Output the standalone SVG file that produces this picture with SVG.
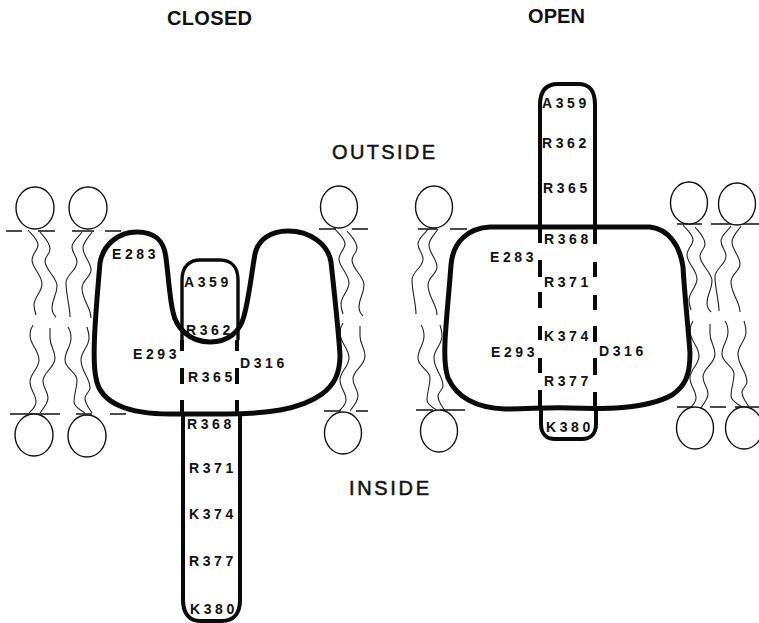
<svg xmlns="http://www.w3.org/2000/svg" width="759" height="623" viewBox="0 0 759 623">
<style>
.bg{fill:#fff}
.h{fill:#fff;stroke:#111;stroke-width:1.4}
.t{fill:none;stroke:#222;stroke-width:1.1}
.m{fill:none;stroke:#111;stroke-width:1.3}
.b{fill:none;stroke:#0a0a0a;stroke-width:5;stroke-linejoin:round}
.s{fill:none;stroke:#0a0a0a;stroke-width:4}
.r{font-family:"Liberation Sans",Arial,sans-serif;font-size:14px;font-weight:700;letter-spacing:3.6px;fill:#111}
.title{font-family:"Liberation Sans",Arial,sans-serif;font-size:20px;font-weight:700;fill:#111}
.sub{font-family:"Liberation Sans",Arial,sans-serif;font-size:20px;font-weight:400;fill:#111;stroke:#111;stroke-width:.5}
</style>
<defs>
<path id="at" d="M0,0C3,4 10,9 10,15C10,20 4,24 4,30C4,38 14,45 14,54C14,62 6,67 6,75C6,79 7,82 8,85M12,2C15,6 22,12 22,19C22,24 17,26 17,31C17,40 29,47 29,56C29,65 24,69 24,78C24,82 26,85 28,87"/>
<path id="bt" d="M0,0C-3,5 -10,9 -10,15C-10,21 -5,24 -5,30C-5,39 -16,42 -16,51C-16,62 -12,75 -12,85M10,0C7,5 1,10 1,16C1,24 9,30 9,38C9,45 0,48 0,56C0,68 9,75 9,86"/>
<path id="ab" d="M0,0C-2,3 -3,6 -3,10C-3,20 6,25 6,35C6,44 -3,48 -3,57C-3,65 3,69 3,77C3,82 -1,85 -4,88M17,3C17,6 17,9 17,13C17,21 22,25 22,33C22,43 10,47 10,56C10,63 15,66 15,73C15,78 10,84 7,88"/>
<path id="bb" d="M0,0C2,3 3,7 3,11C3,20 -3,24 -3,33C-3,42 9,45 9,53C9,62 6,66 6,75C6,80 13,83 17,86M19,0C20,3 21,7 21,11C21,20 13,24 13,33C13,45 22,50 22,61C22,65 17,67 17,71C17,77 21,81 24,86"/>
</defs>
<rect class="bg" width="759" height="623"/>

<g id="titles">
<text class="title" x="167" y="25" textLength="85" lengthAdjust="spacing">CLOSED</text>
<text class="title" x="528" y="23" textLength="57" lengthAdjust="spacing">OPEN</text>
<text class="sub" x="332" y="159" textLength="103" lengthAdjust="spacing">OUTSIDE</text>
<text class="sub" x="349" y="495" textLength="80" lengthAdjust="spacing">INSIDE</text>
</g>

<g id="membrane-closed">
<path class="m" d="M6,231H22M38,231H55M72,231H94M105,231H121M10,414H60M76,414H92M110,414H126M319,229H336M352,229H368M324,411H341M356,411H368"/>
<g class="t">
<use href="#at" x="28" y="230"/><use href="#bt" x="82" y="232"/><use href="#at" x="335" y="229"/>
<use href="#ab" x="33" y="325"/><use href="#bb" x="68" y="327"/><use href="#ab" x="343" y="323"/>
</g>
<ellipse class="h" cx="35" cy="208" rx="19" ry="21"/><ellipse class="h" cx="88" cy="208" rx="19" ry="21"/><ellipse class="h" cx="339" cy="207" rx="18.500" ry="21"/>
<ellipse class="h" cx="34" cy="435" rx="19" ry="21"/><ellipse class="h" cx="87" cy="436" rx="19" ry="21"/><ellipse class="h" cx="343" cy="433" rx="18.500" ry="21"/>
</g>

<g id="membrane-open">
<path class="m" d="M418,229H437M450,229H467M416,410H433M440,410H465M677,224H702M711,224H759M677,407H693M710,407H726M735,407H759"/>
<g class="t">
<use href="#bt" x="428" y="229"/><use href="#at" x="683" y="225"/><use href="#bt" x="731" y="226"/>
<use href="#bb" x="421" y="325"/><use href="#ab" x="693" y="321"/><use href="#bb" x="725" y="321"/>
</g>
<ellipse class="h" cx="434" cy="207" rx="18.500" ry="21"/><ellipse class="h" cx="689" cy="203" rx="18.500" ry="21"/><ellipse class="h" cx="737" cy="204" rx="18.500" ry="21"/>
<ellipse class="h" cx="439" cy="431" rx="18.500" ry="21"/><ellipse class="h" cx="695" cy="428" rx="18.500" ry="21"/><ellipse class="h" cx="744" cy="428" rx="18.500" ry="21"/>
</g>

<g id="channel-closed">
<path class="b" d="M100,263C103,245 118,232 137,232C155,232 164,240 166,258C169,282 170,300 173,312C176,328 190,342 210,342C228,342 240,332 244,316C249,298 252,270 255,254C258,240 270,231 288,231C310,231 328,244 331,262C334,290 338,325 340,355C340,374 334,385 322,394C300,410 265,414 225,414H170C130,414 100,404 96,378C92,360 95,320 100,263Z"/>
<path class="s" d="M182,340V351M182,368V384M182,400V414M237,340V351M237,368V384M237,400V414"/>
<path class="s" d="M182,340V280C182,266 190,260 200,260H220C232,260 238,268 238,280V340" style="stroke-width:3.400"/>
<path class="s" d="M183,414V600C183,614 190,621 200,621H222C233,621 240,614 240,600V414"/>
</g>

<g id="channel-open">
<path class="b" d="M451,265C453,240 470,228 490,227H650C668,229 680,245 683,267C685,300 688,325 690,353C690,376 685,386 672,395C645,410 600,409 570,408C550,407 530,409 505,409C480,408 458,400 448,378C441,358 447,320 451,265Z"/>
<path class="s" d="M540,227V243M540,260V277M540,292V308M540,326V340M540,358V373M540,390V408M595,227V244M595,262V277M595,295V310M595,326V342M595,358V375M595,392V408"/>
<path class="s" d="M540,227V105C540,90 547,84 558,84H578C590,84 595,91 595,105V227"/>
<path class="s" d="M541,408V424C541,434 547,439 555,439H582C591,439 596,433 596,424V408"/>
</g>

<g id="labels-closed">
<text class="r" x="112" y="259">E283</text>
<text class="r" x="133" y="359">E293</text>
<text class="r" x="184" y="287">A359</text>
<text class="r" x="186" y="335">R362</text>
<text class="r" x="188" y="382">R365</text>
<text class="r" x="240" y="368">D316</text>
<text class="r" x="187" y="429">R368</text>
<text class="r" x="189" y="473">R371</text>
<text class="r" x="189" y="519">K374</text>
<text class="r" x="189" y="566">R377</text>
<text class="r" x="190" y="614">K380</text>
</g>

<g id="labels-open">
<text class="r" x="542" y="108">A359</text>
<text class="r" x="542" y="148">R362</text>
<text class="r" x="543" y="193">R365</text>
<text class="r" x="544" y="244">R368</text>
<text class="r" x="490" y="262">E283</text>
<text class="r" x="544" y="287">R371</text>
<text class="r" x="544" y="341">K374</text>
<text class="r" x="491" y="357">E293</text>
<text class="r" x="599" y="356">D316</text>
<text class="r" x="544" y="386">R377</text>
<text class="r" x="546" y="432">K380</text>
</g>
</svg>
